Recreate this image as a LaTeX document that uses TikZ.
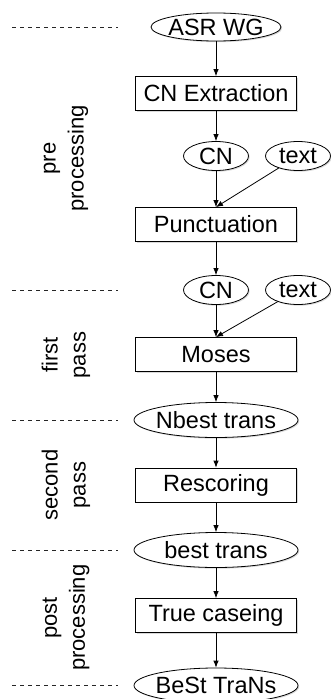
\documentclass[tikz,border=0pt]{standalone}
\usepackage{fontspec}
\setmainfont{Liberation Sans}
\usetikzlibrary{positioning,arrows.meta,calc,shapes.geometric,shadows}
\tikzset{
  >={Latex[length=7pt,width=5.5pt]},
  sep/.style={dashed,dash pattern=on 4pt off 4pt,black!85,line width=0.7pt},
}

\begin{document}
\begin{tikzpicture}[
  x=1pt,y=-1pt,
  ->,line width=0.8pt,
  on grid,
  every node/.style={font=\fontsize{23.5}{28}\selectfont},
  proc/.style={draw,rectangle,fill=white,minimum width=161pt,minimum height=34pt,inner sep=0pt,
    drop shadow={shadow xshift=1.2pt,shadow yshift=-1.2pt,opacity=0.3}},
  data/.style={draw,ellipse,fill=white,minimum width=164pt,minimum height=35pt,inner sep=-3pt,
    drop shadow={shadow xshift=1.2pt,shadow yshift=-1.2pt,opacity=0.3}},
  small/.style={data,minimum width=65pt,minimum height=29pt},
  side/.style={rotate=90,align=center,font=\fontsize{22}{28}\selectfont}
]
\useasboundingbox (0,0) rectangle (331,699);

\node[data,minimum width=130pt,minimum height=28pt] (asr) at (216,27) {ASR WG};
\node[proc,below=66.5pt of asr] (cnx) {CN Extraction};
\node[small,below=62.5pt of cnx] (cn1) {CN};
\node[small,right=82pt of cn1] (txt1) {text};
\node[proc,below=68.5pt of cn1] (punct) {Punctuation};

\node[small,below=65.5pt of punct] (cn2) {CN};
\node[small,right=82pt of cn2] (txt2) {text};
\node[proc,below=64.5pt of cn2] (moses) {Moses};

\node[data,below=65.5pt of moses] (nbest) {Nbest trans};
\node[proc,below=65pt of nbest] (resc) {Rescoring};

\node[data,below=65pt of resc] (best) {best trans};
\node[proc,below=65.5pt of best] (truec) {True caseing};
\node[data,below=70pt of truec] (bestout) {BeSt TraNs};

\path
(asr) edge (cnx)
(cnx) edge (cn1)
(cn1) edge (punct)
(txt1) edge (punct.north)
(punct) edge (cn2)
(cn2) edge (moses)
(txt2) edge (moses.north)
(moses) edge (nbest)
(nbest) edge (resc)
(resc) edge (best)
(best) edge (truec)
(truec) edge (bestout);

% section borders
\foreach \n in {asr,cn2,nbest,best,bestout}
  \draw[sep,-] (12,0 |- \n) -- (118,0 |- \n);

\node[side] (pre) at ($(66,0 |- asr)!0.5!(66,0 |- cn2)$) {pre\\processing};
\node[side] (first) at ($(66,0 |- cn2)!0.5!(66,0 |- nbest)$) {first\\pass};
\node[side] (second) at ($(66,0 |- nbest)!0.5!(66,0 |- best)$) {second\\pass};
\node[side] (post) at ($(66,0 |- best)!0.5!(66,0 |- bestout)$) {post\\processing};

\end{tikzpicture}
\end{document}
